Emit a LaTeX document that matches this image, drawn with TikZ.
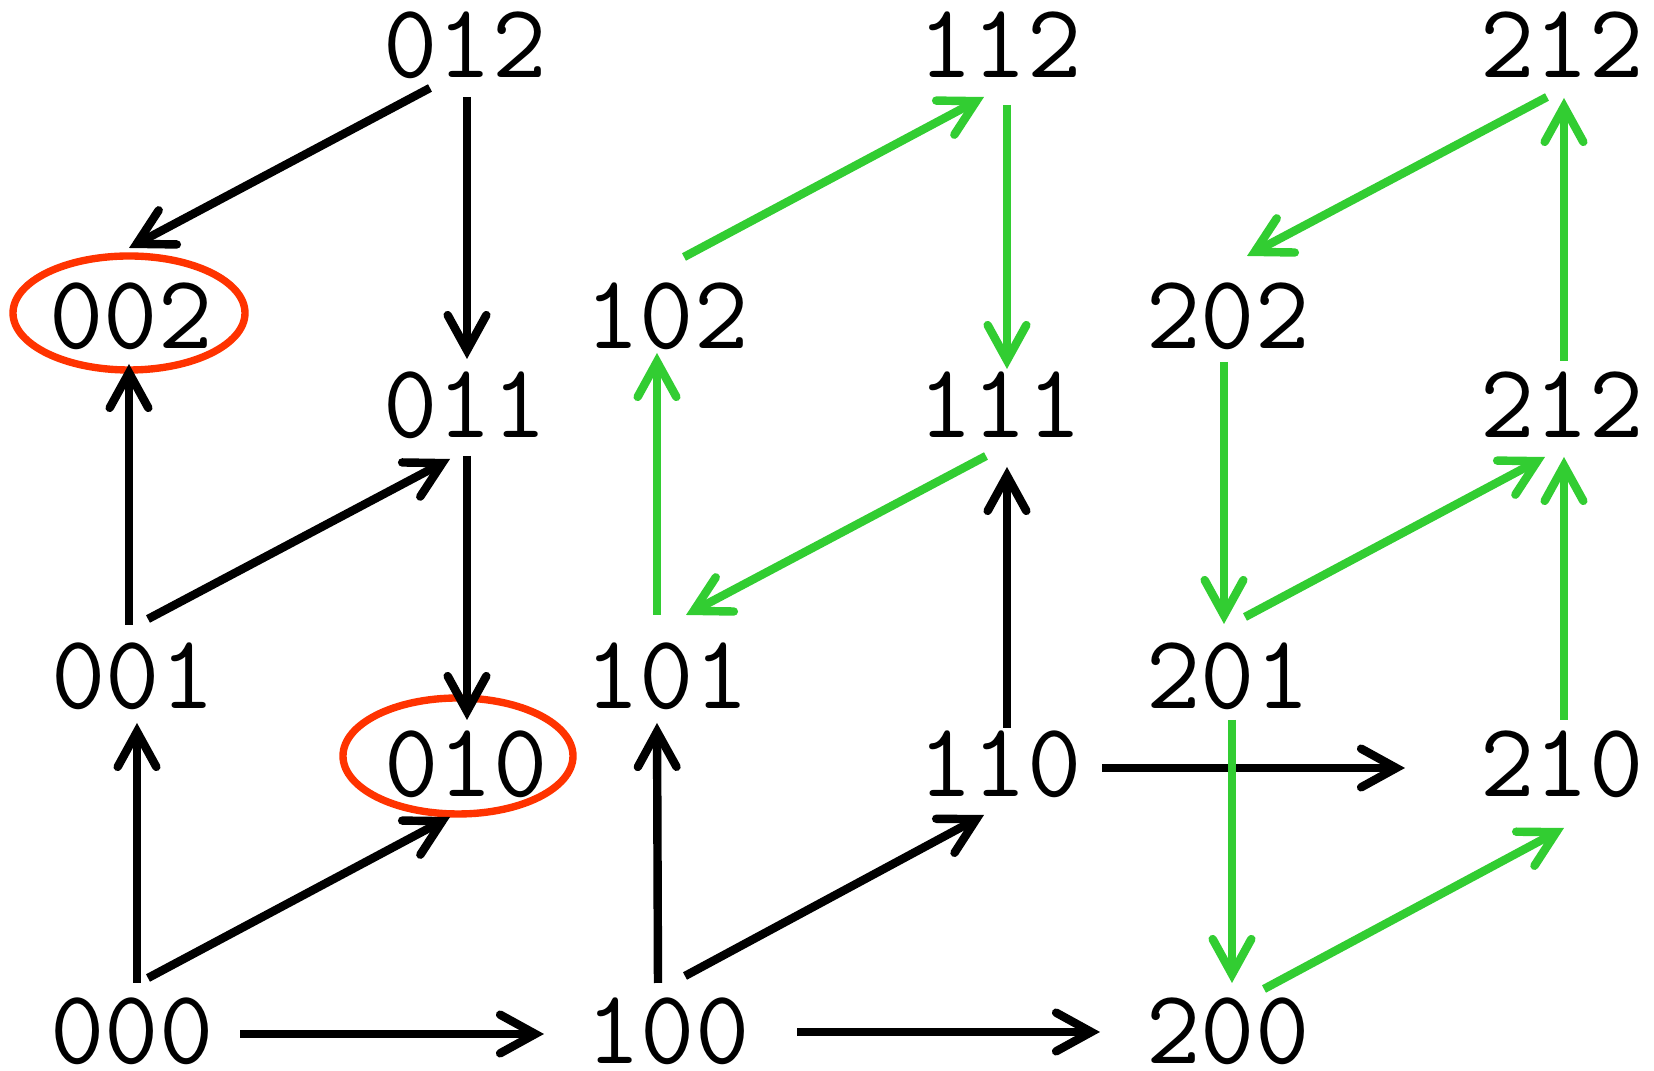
\documentclass[tikz,border=0pt]{standalone}
\usetikzlibrary{arrows.meta,calc}
\definecolor{edgegreen}{RGB}{50,205,50}
\definecolor{ringred}{RGB}{255,51,0}
\begin{document}
\begin{tikzpicture}[x=0.1mm,y=-0.1mm,
  state/.style={inner sep=0pt, font=\fontsize{30}{36}\selectfont\ttfamily},
  blk/.style={line width=2.4pt, -{Straight Barb[length=10pt,width=11pt,line cap=round]}},
  grn/.style={blk, draw=edgegreen},
  ring/.style={draw=ringred, line width=2.1pt}]
\useasboundingbox (0,0) rectangle (1654,1071);
% nodes
\node[state] (n012) at (465,45) {012};
\node[state] (n112) at (1000,45) {112};
\node[state] (n212a) at (1562,45) {212};
\node[state] (n002) at (131,316) {002};
\node[state] (n102) at (667,316) {102};
\node[state] (n202) at (1228,316) {202};
\node[state] (n011) at (465,405) {011};
\node[state] (n111) at (1000,405) {111};
\node[state] (n212b) at (1562,405) {212};
\node[state] (n001) at (133,676) {001};
\node[state] (n101) at (667,676) {101};
\node[state] (n201) at (1228,676) {201};
\node[state] (n010) at (466,764) {010};
\node[state] (n110) at (1000,764) {110};
\node[state] (n210) at (1562,764) {210};
\node[state] (n000) at (132,1031) {000};
\node[state] (n100) at (668,1031) {100};
\node[state] (n200) at (1228,1031) {200};
% rings
\draw[ring] ($(n002)+(-2,-3)$) ellipse [x radius=11.6mm, y radius=5.7mm];
\draw[ring] ($(n010)+(-8,-8)$) ellipse [x radius=11.5mm, y radius=5.8mm];
% black edges
\draw[blk] ($(n012)+(-35,43)$) -- ($(n002)+(-2,-68)$);
\draw[blk] ($(n012)+(2,52)$) -- ($(n011)+(2,-46)$);
\draw[blk] ($(n001)+(-4,-51)$) -- ($(n002)+(-2,48)$);
\draw[blk] ($(n001)+(15,-57)$) -- ($(n011)+(-15,54)$);
\draw[blk] ($(n011)+(2,51)$) -- ($(n010)+(1,-44)$);
\draw[blk] ($(n000)+(5,-48)$) -- ($(n001)+(4,47)$);
\draw[blk] ($(n000)+(16,-53)$) -- ($(n010)+(-16,53)$);
\draw[blk] ($(n000)+(108,3)$) -- ($(n100)+(-124,3)$);
\draw[blk] ($(n100)+(-10,-48)$) -- ($(n101)+(-10,47)$);
\draw[blk] ($(n100)+(17,-55)$) -- ($(n110)+(-16,51)$);
\draw[blk] ($(n100)+(129,1)$) -- ($(n200)+(-128,1)$);
\draw[blk] ($(n110)+(7,-36)$) -- ($(n111)+(7,62)$);
\draw[blk] ($(n110)+(102,4)$) -- ($(n210)+(-157,4)$);
% green edges
\draw[grn] ($(n102)+(17,-59)$) -- ($(n112)+(-16,52)$);
\draw[grn] ($(n112)+(7,60)$) -- ($(n111)+(7,-36)$);
\draw[grn] ($(n111)+(-14,51)$) -- ($(n101)+(19,-61)$);
\draw[grn] ($(n101)+(-10,-61)$) -- ($(n102)+(-10,37)$);
\draw[grn] ($(n212a)+(-15,52)$) -- ($(n202)+(19,-60)$);
\draw[grn] ($(n202)+(-4,46)$) -- ($(n201)+(-4,-52)$);
\draw[grn] ($(n201)+(17,-59)$) -- ($(n212b)+(-17,52)$);
\draw[grn] ($(n212b)+(2,-44)$) -- ($(n212a)+(2,53)$);
\draw[grn] ($(n210)+(2,-44)$) -- ($(n212b)+(2,52)$);
\draw[grn] ($(n201)+(4,44)$) -- ($(n200)+(4,-48)$);
\draw[grn] ($(n200)+(36,-42)$) -- ($(n210)+(2,64)$);
\end{tikzpicture}
\end{document}
